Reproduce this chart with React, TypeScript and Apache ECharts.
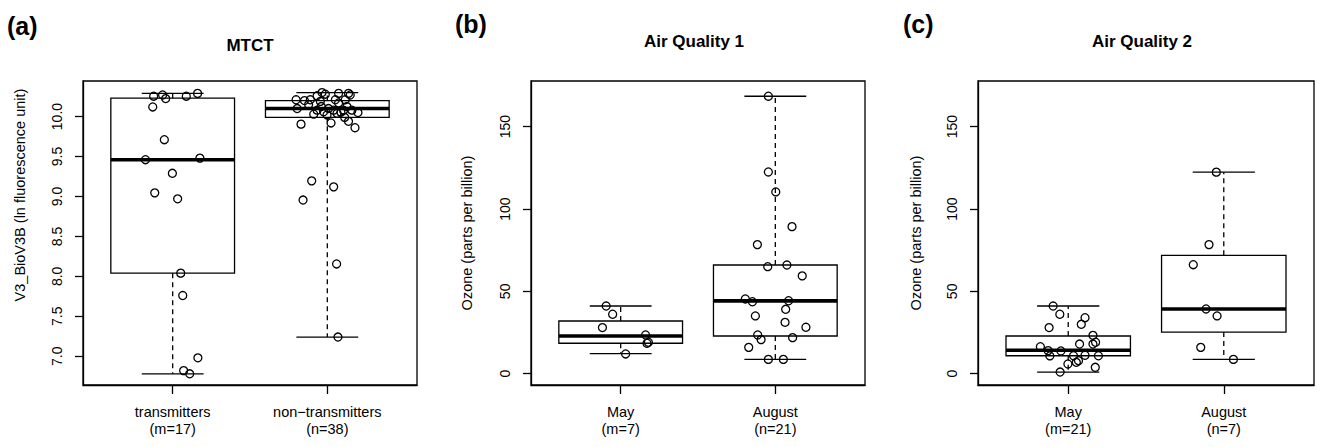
import React, { useEffect, useRef } from "react";
import * as echarts from "echarts";

const FONT = "'Liberation Sans', Arial, Helvetica, sans-serif";

const panelLetters = ["(a)", "(b)", "(c)"];
const panelTitles = ["MTCT", "Air Quality 1", "Air Quality 2"];
const yTitles = [
  "V3_BioV3B (ln fluorescence unit)",
  "Ozone (parts per billion)",
  "Ozone (parts per billion)",
];

const catsA = ["transmitters\n(m=17)", "non\u2212transmitters\n(n=38)"];
const catsB = ["May\n(m=7)", "August\n(n=21)"];
const catsC = ["May\n(m=21)", "August\n(n=7)"];

const yTicksA = [7.0, 7.5, 8.0, 8.5, 9.0, 9.5, 10.0];
const yTicksOzone = [0, 50, 100, 150];

// box stats: [min, Q1, median, Q3, max]
const boxA = [
  [6.78, 8.04, 9.46, 10.23, 10.29],
  [7.24, 9.99, 10.1, 10.2, 10.3],
];
const boxB = [
  [12.2, 18.5, 22.9, 32.0, 41.1],
  [8.7, 22.9, 44.2, 66.0, 168.5],
];
const boxC = [
  [0.9, 10.9, 14.2, 22.9, 41.1],
  [8.7, 25.3, 39.3, 71.9, 122.4],
];

// points: [jitter offset from group centre, value]
const transmitters = [
  [-0.123, 10.255], [-0.065, 10.27], [-0.045, 10.225], [0.088, 10.255], [0.161, 10.29],
  [-0.129, 10.12], [-0.054, 9.71], [-0.176, 9.46], [0.176, 9.48], [-0.002, 9.29],
  [-0.116, 9.045], [0.032, 8.97], [0.052, 8.04], [0.065, 7.76], [0.163, 6.98],
  [0.071, 6.82], [0.11, 6.78],
];
const nonTransmitters = [
  [-0.202, 10.21], [-0.148, 10.2], [-0.195, 10.1], [-0.17, 9.905], [-0.088, 10.03],
  [-0.066, 10.26], [-0.034, 10.3], [-0.013, 10.28], [-0.045, 10.19], [-0.039, 10.125],
  [0.008, 10.1], [0.024, 9.92], [0.073, 10.29], [0.137, 10.29], [0.148, 10.27],
  [0.073, 10.17], [0.116, 10.21], [0.127, 10.125], [0.063, 10.04], [0.088, 10.055],
  [0.137, 9.94], [0.112, 9.99], [0.179, 9.86], [0.198, 10.05], [-0.121, 10.15],
  [-0.024, 10.06], [0.041, 10.08], [-0.066, 10.08], [-0.11, 10.21], [0.105, 10.08],
  [-0.002, 10.02], [0.159, 10.08], [0.052, 10.21], [-0.101, 9.195], [0.041, 9.12],
  [-0.157, 8.955], [0.06, 8.155], [0.069, 7.24],
];
const may1 = [
  [-0.094, 41.1], [-0.052, 36.1], [-0.118, 28.0], [0.161, 23.5], [0.17, 18.5],
  [0.179, 19.1], [0.032, 12.0],
];
const august1 = [
  [-0.045, 168.5], [-0.045, 122.5], [0.003, 110.4], [0.108, 89.3], [-0.116, 78.4],
  [-0.049, 65.0], [0.075, 66.0], [0.174, 59.4], [-0.194, 45.4], [-0.148, 43.7],
  [0.086, 44.3], [0.067, 39.1], [-0.129, 35.1], [0.063, 31.2], [0.198, 28.2],
  [-0.114, 23.5], [-0.092, 20.7], [0.112, 21.9], [-0.172, 16.0], [-0.045, 8.7],
  [0.052, 8.7],
];
const may2 = [
  [-0.097, 41.1], [-0.054, 36.1], [0.108, 34.0], [0.084, 30.0], [-0.123, 28.0],
  [0.159, 23.3], [0.073, 18.0], [0.176, 19.1], [0.159, 18.0], [-0.179, 16.4],
  [-0.129, 14.0], [-0.047, 13.8], [-0.118, 10.8], [0.034, 10.9], [0.108, 11.2],
  [0.194, 10.9], [0.066, 7.9], [0.052, 6.9], [-0.002, 5.9], [0.174, 3.9],
  [-0.052, 1.0],
];
const august2 = [
  [-0.048, 122.4], [-0.095, 78.4], [-0.196, 66.2], [-0.114, 39.3], [-0.043, 35.1],
  [-0.148, 16.0], [0.062, 8.7],
];

const panels = [
  { cats: catsA, ticks: yTicksA, dec: 1, ymin: 6.64, ymax: 10.445, boxes: boxA, groups: [transmitters, nonTransmitters] },
  { cats: catsB, ticks: yTicksOzone, dec: 0, ymin: -6.86, ymax: 177.75, boxes: boxB, groups: [may1, august1] },
  { cats: catsC, ticks: yTicksOzone, dec: 0, ymin: -6.86, ymax: 177.75, boxes: boxC, groups: [may2, august2] },
];

const grids = [
  { left: 83, top: 81, width: 334, height: 304 },
  { left: 531, top: 81, width: 334, height: 304 },
  { left: 978, top: 81, width: 336, height: 304 },
];

const letterPos = [[7, 26], [455, 24], [903, 24]];
const titlePos = [[250, 45], [694, 41], [1142, 41]];
const yTitlePos = [[20, 195], [467, 233], [916, 233]];

function renderBox(params: any, api: any) {
  const x = api.value(0);
  const mn = api.value(1), q1 = api.value(2), md = api.value(3), q3 = api.value(4), mx = api.value(5);
  const bw = api.size([0.8, 0], [x, md])[0];
  const sw = bw / 2;
  const pMin = api.coord([x, mn]);
  const pQ1 = api.coord([x, q1]);
  const pMd = api.coord([x, md]);
  const pQ3 = api.coord([x, q3]);
  const pMax = api.coord([x, mx]);
  const cx = pMd[0];
  const solid = { stroke: "#000", lineWidth: 1.3 };
  const dashed = { stroke: "#000", lineWidth: 1.3, lineDash: [5, 4] };
  return {
    type: "group",
    children: [
      { type: "line", shape: { x1: cx, y1: pQ3[1], x2: cx, y2: pMax[1] }, style: dashed },
      { type: "line", shape: { x1: cx, y1: pQ1[1], x2: cx, y2: pMin[1] }, style: dashed },
      { type: "line", shape: { x1: cx - sw / 2, y1: pMax[1], x2: cx + sw / 2, y2: pMax[1] }, style: solid },
      { type: "line", shape: { x1: cx - sw / 2, y1: pMin[1], x2: cx + sw / 2, y2: pMin[1] }, style: solid },
      {
        type: "rect",
        shape: { x: cx - bw / 2, y: pQ3[1], width: bw, height: pQ1[1] - pQ3[1] },
        style: { stroke: "#000", lineWidth: 1.3, fill: "none" },
      },
      { type: "line", shape: { x1: cx - bw / 2, y1: pMd[1], x2: cx + bw / 2, y2: pMd[1] }, style: { stroke: "#000", lineWidth: 3.6 } },
    ],
  };
}

export default function App() {
  const ref = useRef<HTMLDivElement>(null);

  useEffect(() => {
    document.body.style.margin = "0";
    document.body.style.overflow = "hidden";
    if (!ref.current) return;
    const chart = echarts.init(ref.current, undefined, { renderer: "svg" });

    const series: any[] = [];
    panels.forEach((p, i) => {
      series.push({
        type: "custom",
        xAxisIndex: i,
        yAxisIndex: i,
        renderItem: renderBox,
        encode: { x: 0, y: [1, 2, 3, 4, 5] },
        data: p.boxes.map((b, k) => [k + 1, ...b]),
        z: 2,
        silent: true,
      });
      p.groups.forEach((g, k) => {
        series.push({
          type: "scatter",
          xAxisIndex: i,
          yAxisIndex: i,
          symbol: "circle",
          symbolSize: 8,
          itemStyle: { color: "rgba(0,0,0,0)", borderColor: "#000", borderWidth: 1.3, opacity: 1 },
          data: g.map((pt) => [k + 1 + pt[0], pt[1]]),
          z: 3,
          silent: true,
        });
      });
    });

    const graphics: any[] = [];
    panelLetters.forEach((t, i) => {
      graphics.push({
        type: "text",
        x: letterPos[i][0],
        y: letterPos[i][1],
        style: { text: t, fill: "#000", font: `bold 25px ${FONT}`, align: "left", verticalAlign: "middle", textAlign: "left", textVerticalAlign: "middle" },
      });
    });
    panelTitles.forEach((t, i) => {
      graphics.push({
        type: "text",
        x: titlePos[i][0],
        y: titlePos[i][1],
        style: { text: t, fill: "#000", font: `bold 17px ${FONT}`, align: "center", verticalAlign: "middle", textAlign: "center", textVerticalAlign: "middle" },
      });
    });
    yTitles.forEach((t, i) => {
      graphics.push({
        type: "text",
        x: yTitlePos[i][0],
        y: yTitlePos[i][1],
        rotation: Math.PI / 2,
        style: { text: t, fill: "#000", font: `14.5px ${FONT}`, align: "center", verticalAlign: "middle", textAlign: "center", textVerticalAlign: "middle" },
      });
    });

    chart.setOption({
      animation: false,
      backgroundColor: "#fff",
      textStyle: { fontFamily: FONT },
      grid: grids.map((g) => ({ ...g, show: true, borderColor: "#000", borderWidth: 1.3, backgroundColor: "transparent" })),
      xAxis: panels.map((p, i) => ({
        type: "value",
        gridIndex: i,
        min: 0.42,
        max: 2.58,
        axisLine: { show: true, onZero: false, lineStyle: { color: "#000", width: 1.3 } },
        axisTick: { show: true, customValues: [1, 2], length: 9, lineStyle: { color: "#000", width: 1.3 } },
        axisLabel: {
          customValues: [1, 2],
          formatter: (v: number) => p.cats[Math.round(v) - 1] || "",
          color: "#000",
          fontSize: 14.5,
          lineHeight: 17,
          margin: 18,
          fontFamily: FONT,
        },
        splitLine: { show: false },
      })),
      yAxis: panels.map((p, i) => ({
        type: "value",
        gridIndex: i,
        min: p.ymin,
        max: p.ymax,
        axisLine: { show: true, onZero: false, lineStyle: { color: "#000", width: 1.3 } },
        axisTick: { show: true, customValues: p.ticks, length: 8, lineStyle: { color: "#000", width: 1.3 } },
        axisLabel: {
          customValues: p.ticks,
          formatter: (v: number) => v.toFixed(p.dec),
          rotate: 90,
          color: "#000",
          fontSize: 14,
          margin: 19,
          fontFamily: FONT,
        },
        splitLine: { show: false },
      })),
      graphic: graphics,
      series,
    });

    return () => chart.dispose();
  }, []);

  return <div ref={ref} style={{ width: 1321, height: 447 }} />;
}
